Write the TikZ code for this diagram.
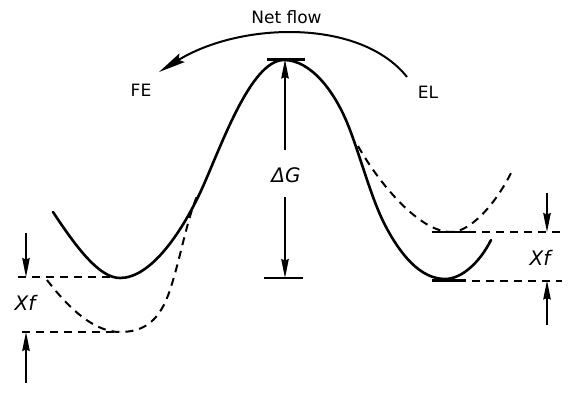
\documentclass[tikz,border=0pt]{standalone}
\usepackage{fontspec}
\setmainfont{DejaVu Sans}
\usetikzlibrary{arrows.meta}
\tikzset{
  curve/.style={line width=2.6pt, line cap=round, line join=round},
  dcurve/.style={line width=2pt, dash pattern=on 8pt off 6pt},
  dimarrow/.style={line width=1.5pt, -{Stealth[length=19pt,width=7.5pt,inset=1.5pt]}},
  bar/.style={line width=2.2pt},
  lab/.style={inner sep=0pt, font=\fontsize{17}{19}\selectfont},
  ilab/.style={inner sep=0pt, font=\fontsize{20}{22}\selectfont\itshape},
}
\begin{document}
\begin{tikzpicture}[x=1pt,y=-1pt]
\useasboundingbox (0,0) rectangle (570,393);
% named points
\coordinate (topL) at (267,59.5);
\coordinate (topR) at (305,59.5);
\coordinate (botL) at (264,278);
\coordinate (botR) at (303,278);
\coordinate (dgTop) at (285,59.5);
\coordinate (dgBot) at (285,278);
\coordinate (dgA) at (285,150);
\coordinate (dgB) at (285,197);
% main solid curve
\draw[curve] (53,212) .. controls (78,250) and (100,278) .. (120,278)
  .. controls (150,278) and (180,235) .. (200,193)
  .. controls (220,150) and (250,60) .. (284,60)
  .. controls (310,60) and (335,90) .. (350,130)
  .. controls (362,162) and (372,200) .. (385,225)
  .. controls (400,254) and (420,279) .. (445,279)
  .. controls (462,279) and (480,262) .. (491,240);
% left dashed well
\draw[dcurve] (47,280) .. controls (70,310) and (95,332) .. (120,332)
  .. controls (145,332) and (160,320) .. (170,290)
  .. controls (180,260) and (188,215) .. (198,194);
% right dashed well
\draw[dcurve] (358,146) .. controls (380,185) and (420,232) .. (451,232)
  .. controls (470,232) and (495,205) .. (511,173);
% level lines left
\draw[dcurve] (18,277) -- (112,277);
\draw[dcurve] (22,332) -- (120,332);
% level lines right
\draw[bar] (432,232) -- (476,232);
\draw[dcurve] (482,232) -- (560,232);
\draw[bar] (432,280.5) -- (466,280.5);
\draw[dcurve] (472,280.5) -- (562,280.5);
% Delta G bars and arrows
\draw[bar] (topL) -- (topR);
\draw[bar] (botL) -- (botR);
\draw[dimarrow] (dgA) -- (dgTop);
\draw[dimarrow] (dgB) -- (dgBot);
\node[ilab] (dg) at (286,175) {ΔG};
% Xf arrows left
\coordinate (lu0) at (26,233);
\coordinate (lu1) at (26,277);
\coordinate (ll0) at (26,383);
\coordinate (ll1) at (26,332);
\draw[dimarrow] (lu0) -- (lu1);
\draw[dimarrow] (ll0) -- (ll1);
\node[ilab] (xfl) at (25,303) {Xf};
% Xf arrows right
\coordinate (ru0) at (547,193);
\coordinate (ru1) at (547,232);
\coordinate (rl0) at (547,325);
\coordinate (rl1) at (547,280.5);
\draw[dimarrow] (ru0) -- (ru1);
\draw[dimarrow] (rl0) -- (rl1);
\node[ilab] (xfr) at (540,258) {Xf};
% Net flow arc
\coordinate (arcS) at (407,77);
\coordinate (arcE) at (159,72);
\draw[line width=2pt, -{Stealth[length=27pt,width=10pt,inset=4pt]}]
  (arcS) .. controls (360,18) and (240,22) .. (arcE);
\node[lab] (nf) at (286.5,17) {Net flow};
\node[lab] (fe) at (141,90) {FE};
\node[lab] (el) at (428,92) {EL};
\end{tikzpicture}
\end{document}
